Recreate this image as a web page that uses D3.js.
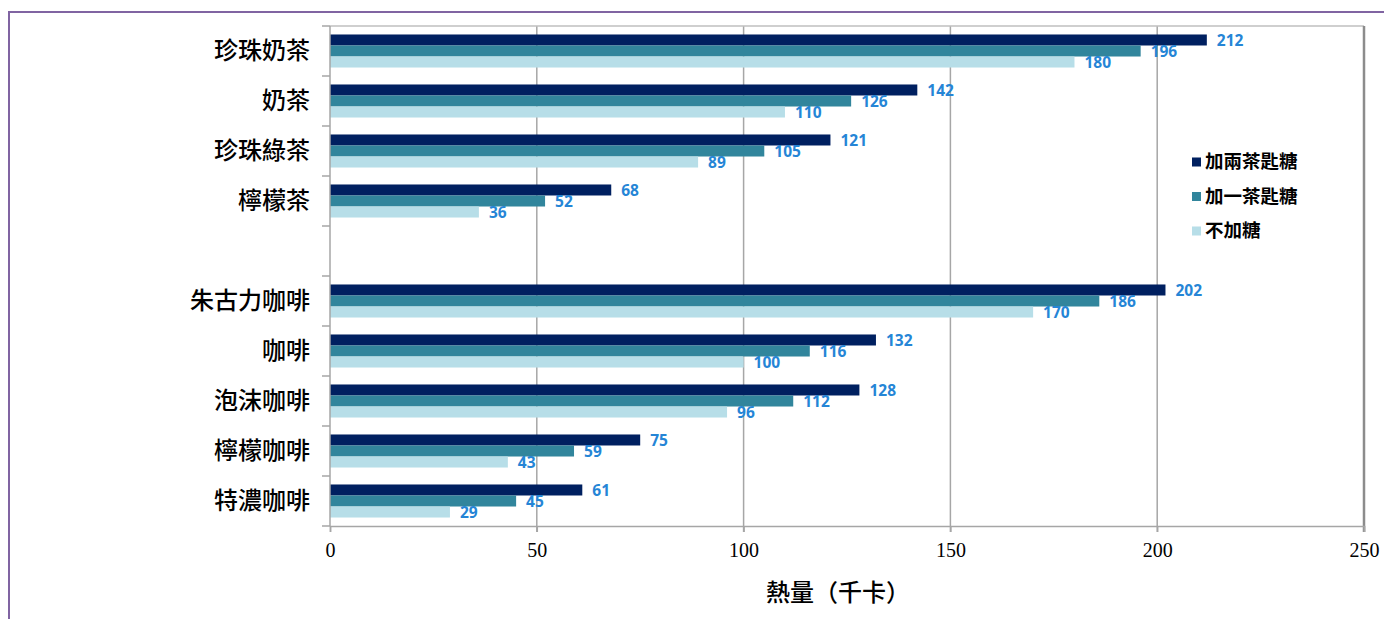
<!DOCTYPE html>
<html>
<head>
<meta charset="utf-8">
<script src="https://cdn.jsdelivr.net/npm/d3@7"></script>
<style>
  body { margin: 0; background: #fff; }
  svg { display: block; }
</style>
</head>
<body>
<div id="chart"></div>
<script>
// categories, top to bottom ("" is the empty gap row)
const categories = ["珍珠奶茶", "奶茶", "珍珠綠茶", "檸檬茶", "", "朱古力咖啡", "咖啡", "泡沫咖啡", "檸檬咖啡", "特濃咖啡"];
const seriesNames = ["加兩茶匙糖", "加一茶匙糖", "不加糖"];
const twoSpoons = [212, 142, 121, 68, null, 202, 132, 128, 75, 61];
const oneSpoon  = [196, 126, 105, 52, null, 186, 116, 112, 59, 45];
const noSugar   = [180, 110, 89, 36, null, 170, 100, 96, 43, 29];
const xTicks = [0, 50, 100, 150, 200, 250];
const xTitle = "熱量（千卡）";

const colors = ["#002060", "#31859c", "#b7dee8"];
const labelColor = "#2585d6";

const W = 1384, H = 619;
const margin = {top: 26, right: 20, bottom: 93, left: 330};
const plotW = 1364 - margin.left;
const plotH = 526 - margin.top;

const svg = d3.select("#chart").append("svg")
    .attr("width", W)
    .attr("height", H);

// purple frame
svg.append("rect")
    .attr("x", 9).attr("y", 12)
    .attr("width", W + 20).attr("height", H + 20)
    .attr("fill", "none")
    .attr("stroke", "#8064a2")
    .attr("stroke-width", 2);

const g = svg.append("g")
    .attr("transform", `translate(${margin.left},${margin.top})`);

const x = d3.scaleLinear().domain([0, 250]).range([0, plotW]);
const y0 = d3.scaleBand().domain(d3.range(categories.length)).range([0, plotH]).padding(0);
const y1 = d3.scaleBand().domain(d3.range(seriesNames.length))
    .range([0, y0.bandwidth()]).paddingInner(0).paddingOuter(0.77);

const rows = categories.map((c, i) => ({
    cat: c, i: i,
    values: [twoSpoons[i], oneSpoon[i], noSugar[i]]
}));

// gridlines
g.selectAll(".grid")
    .data(xTicks.slice(1, -1))
    .enter().append("line")
    .attr("x1", d => x(d)).attr("x2", d => x(d))
    .attr("y1", 0).attr("y2", plotH + 6)
    .attr("stroke", "#a6a6a6")
    .attr("stroke-width", 1.5);

// top and right border
g.append("line")
    .attr("x1", 0).attr("x2", plotW).attr("y1", 0).attr("y2", 0)
    .attr("stroke", "#bfbfbf").attr("stroke-width", 1.5);
g.append("line")
    .attr("x1", plotW).attr("x2", plotW).attr("y1", 0).attr("y2", plotH + 6)
    .attr("stroke", "#8c8c8c").attr("stroke-width", 2.5);

// bars
const groups = g.selectAll(".row")
    .data(rows.filter(r => r.values[0] != null))
    .enter().append("g")
    .attr("transform", d => `translate(0,${y0(d.i)})`);

groups.selectAll("rect")
    .data(d => d.values.map((v, s) => ({v, s})))
    .enter().append("rect")
    .attr("x", 0)
    .attr("y", d => y1(d.s))
    .attr("width", d => x(d.v))
    .attr("height", y1.bandwidth())
    .attr("fill", d => colors[d.s]);

groups.selectAll("text")
    .data(d => d.values.map((v, s) => ({v, s})))
    .enter().append("text")
    .attr("x", d => x(d.v) + 10)
    .attr("y", d => y1(d.s) + y1.bandwidth() / 2 + 1)
    .attr("dy", "0.35em")
    .attr("fill", labelColor)
    .attr("font-family", "'Open Sans', sans-serif")
    .attr("font-weight", "bold")
    .attr("font-size", 15.5)
    .text(d => d.v);

// y axis
g.append("line")
    .attr("x1", 0).attr("x2", 0).attr("y1", 0).attr("y2", plotH)
    .attr("stroke", "#a6a6a6").attr("stroke-width", 1.5);
g.selectAll(".ytick")
    .data(d3.range(categories.length + 1))
    .enter().append("line")
    .attr("x1", -8).attr("x2", 0)
    .attr("y1", d => d * y0.step()).attr("y2", d => d * y0.step())
    .attr("stroke", "#a6a6a6").attr("stroke-width", 1.5);
g.selectAll(".ylabel")
    .data(rows)
    .enter().append("text")
    .attr("x", -20)
    .attr("y", d => y0(d.i) + y0.bandwidth() / 2)
    .attr("dy", "0.35em")
    .attr("text-anchor", "end")
    .attr("font-family", "'Noto Sans CJK TC', sans-serif")
    .attr("font-weight", 500)
    .attr("font-size", 24)
    .attr("fill", "#000")
    .text(d => d.cat);

// x axis
const xAxis = g.append("g")
    .attr("transform", `translate(0,${plotH})`)
    .call(d3.axisBottom(x).tickValues(xTicks).tickSize(6).tickPadding(11));
xAxis.select(".domain").attr("stroke", "#a6a6a6").attr("stroke-width", 1.5);
xAxis.selectAll(".tick line").attr("stroke", "#a6a6a6").attr("stroke-width", 1.5);
xAxis.selectAll(".tick text")
    .attr("font-family", "'Liberation Serif', serif")
    .attr("font-size", 20)
    .attr("fill", "#000");

svg.append("text")
    .attr("x", 838).attr("y", 593)
    .attr("dy", "0.35em")
    .attr("text-anchor", "middle")
    .attr("font-family", "'Noto Sans CJK TC', sans-serif")
    .attr("font-weight", 500)
    .attr("font-size", 24)
    .attr("fill", "#000")
    .text(xTitle);

// legend
const legend = svg.append("g").attr("transform", "translate(1192,162)");
seriesNames.forEach((name, i) => {
    const row = legend.append("g").attr("transform", `translate(0,${i * 34.5})`);
    row.append("rect")
        .attr("x", 0).attr("y", -4.5)
        .attr("width", 9).attr("height", 9)
        .attr("fill", colors[i]);
    row.append("text")
        .attr("x", 13).attr("y", 0)
        .attr("dy", "0.35em")
        .attr("font-family", "'Noto Sans CJK TC', sans-serif")
        .attr("font-weight", "bold")
        .attr("font-size", 18.5)
        .attr("fill", "#000")
        .text(name);
});
</script>
</body>
</html>
